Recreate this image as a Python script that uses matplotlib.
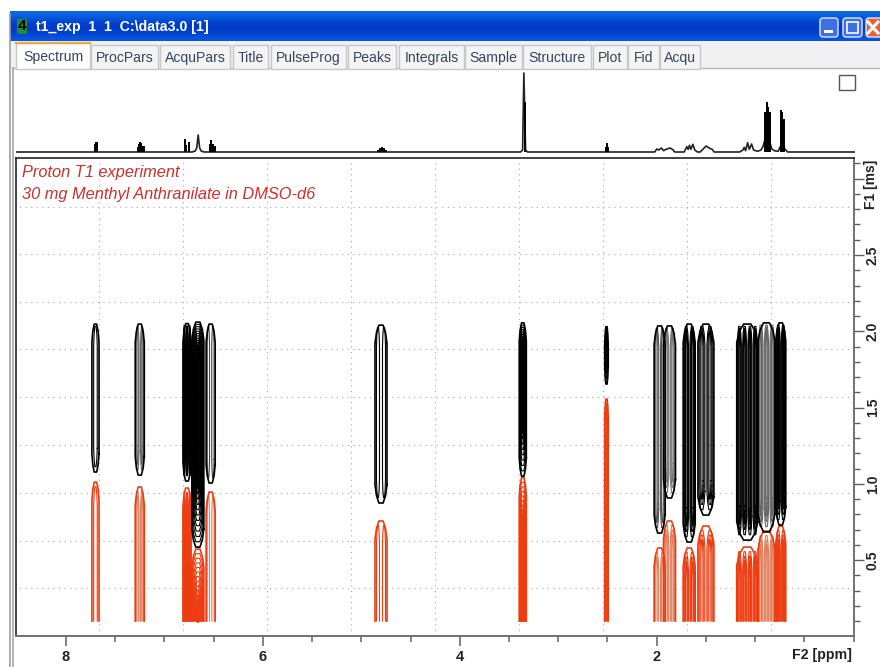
import numpy as np
import matplotlib
matplotlib.use('Agg')
import matplotlib.pyplot as plt
from matplotlib.patches import Rectangle, FancyBboxPatch

W, H = 880, 667

# 2D peaks: one entry per column of contours
peak_ppm = [7.70, 7.25, 6.77, 6.66, 6.53, 4.80, 3.36, 2.51, 1.97, 1.87, 1.67, 1.50, 1.08, 0.885, 0.74]
peak_hw = [0.036, 0.046, 0.041, 0.061, 0.046, 0.061, 0.036, 0.018, 0.056, 0.061, 0.061, 0.081, 0.107, 0.086, 0.051]
black_top = [2.047, 2.047, 2.05, 2.06, 2.047, 2.04, 2.055, 2.03, 2.035, 2.035, 2.047, 2.047, 2.047, 2.055, 2.055]
black_low = [1.077, 1.057, 1.018, 0.585, 1.005, 0.874, 1.05, 1.654, 0.677, 0.907, 0.618, 0.795, 0.631, 0.684, 0.73]
red_top = [1.011, 0.979, 0.972, 0.572, 0.946, 0.756, 1.04, 1.556, 0.579, 0.756, 0.579, 0.723, 0.585, 0.69, 0.723]
peak_lobes = [1, 2, 3, 1, 2, 2, 1, 1, 2, 2, 2, 2, 4, 3, 2]
peak_nest = [1, 2, 3, 12, 1, 1, 10, 2, 2, 3, 3, 3, 3, 3, 4]
black_inner = ['black', '#666666', 'black', 'black', '#444444', 'black', 'black', 'black', '#555555', '#777777',
               'black', 'black', 'black', '#666666', 'black']
red_inner = ['#ec3c10', '#e08060', '#ec3c10', '#ec3c10', '#e08060', '#ec3c10', '#ec3c10', '#ec3c10', '#e08060',
             '#e08060', '#ec3c10', '#ec3c10', '#ec3c10', '#e08060', '#ec3c10']
red_bottom = 0.1

# 1D projection on top, line part and stick part (height in pixels above baseline)
line_ppm = [8.51, 6.72, 6.689, 6.674, 6.659, 6.644, 6.628, 6.598, 3.388, 3.368, 3.355, 3.338, 3.317,
            2.027, 2.007, 1.986, 1.959, 1.939, 1.912, 1.872, 1.844, 1.824, 1.729, 1.702, 1.689, 1.675,
            1.661, 1.641, 1.621, 1.594, 1.567, 1.539, 1.506, 1.471, 1.445, 1.425, 1.167, 1.133, 1.12,
            1.106, 1.085, 1.069, 1.045, 1.025, 0.984, 0.95, 0.93, 0.91, 0.856, 0.842, 0.815, 0.775,
            0.754, 0.714, 0.679, 0.0]
line_h = [0, 0, 1, 4, 17, 4, 1, 0, 0, 2, 79, 2, 0,
          0, 3, 2, 4, 1.3, 2.7, 4, 2.3, 0, 0, 5.3, 2.7, 6.7,
          2.7, 7.7, 2, 0, 0, 2.7, 6, 3.7, 2.7, 0, 0, 2, 4.7,
          1.3, 9.3, 2.7, 8, 2, 0.7, 2, 5.3, 12, 8.7, 3.3, 1.3, 0.7,
          5.3, 3.7, 0, 0]
stick_ppm = [7.708, 7.70, 7.69, 7.682, 7.268, 7.258, 7.248, 7.238, 7.228, 7.212, 6.788, 6.781, 6.757, 6.75,
             6.544, 6.527, 6.51, 6.493, 4.836, 4.81, 4.79, 4.77, 4.749, 3.344, 2.52, 2.508, 2.499,
             0.91, 0.903, 0.896, 0.889, 0.883, 0.876, 0.869, 0.862, 0.747, 0.74, 0.734, 0.727, 0.72]
stick_h = [8, 10, 10, 7, 5, 8, 10, 9, 6, 6, 12.7, 7, 10, 6,
           8, 12, 8, 6, 2, 4, 5, 4, 2, 50, 5, 9, 5,
           40, 40, 40, 50, 45, 40, 40, 40, 42, 32, 40, 32, 33]

grid_ppm = [7.664, 6.811, 5.958, 5.105, 4.252, 3.398, 2.545, 1.692, 0.839]
grid_ms = [0.316, 0.625, 0.939, 1.254, 1.569, 1.884, 2.192, 2.507, 2.815]

tab_names = ['Spectrum', 'ProcPars', 'AcquPars', 'Title', 'PulseProg', 'Peaks', 'Integrals',
             'Sample', 'Structure', 'Plot', 'Fid', 'Acqu']
tab_left = [16, 91, 160, 233, 271, 348, 399, 465, 523, 593, 628, 660]
tab_right = [90, 158, 230, 268, 346, 396, 464, 522, 591, 627, 659, 700]

plt.rcParams['font.family'] = ['Liberation Sans', 'DejaVu Sans']

fig = plt.figure(figsize=(W / 100, H / 100), dpi=100)


def axes_px(left, top, right, bottom):
    return fig.add_axes([left / W, 1 - bottom / H, (right - left) / W, (bottom - top) / H])


# window frame, in pixels
bg = axes_px(0, 0, W, H)
bg.set_xlim(0, W)
bg.set_ylim(H, 0)
bg.axis('off')
bar = np.array([[0.05, 0.40, 0.88], [0.02, 0.33, 0.85], [0.0, 0.25, 0.80], [0.0, 0.23, 0.78],
                [0.0, 0.27, 0.82], [0.03, 0.33, 0.88]])[:, None, :]
bg.imshow(bar, extent=[10, W, 41, 11], aspect='auto', interpolation='bilinear', zorder=1)
bg.set_xlim(0, W)
bg.set_ylim(H, 0)
bg.add_patch(Rectangle((11, 41), W - 11, 27, fc='#f1f1f4', ec='none', zorder=1))
bg.plot([13, W], [68, 68], color='#b5b5b5', lw=1, zorder=2)
bg.plot([10, 10], [14, H], color='#a0a0a0', lw=1.2, zorder=2)
bg.plot([12.5, 12.5], [68, H], color='#a8a8a8', lw=1.2, zorder=2)

for i, name in enumerate(tab_names):
    active = i == 0
    top = 43 if active else 45
    bg.add_patch(Rectangle((tab_left[i], top), tab_right[i] - tab_left[i], 68.5 - top,
                           fc='white' if active else '#f4f4f4', ec='#c8c8c8', lw=1, zorder=3))
    if active:
        bg.plot([tab_left[i], tab_right[i]], [43, 43], color='#eda93a', lw=1.6, zorder=4)
    bg.text((tab_left[i] + tab_right[i]) / 2, 60.5 if active else 62, name, color='#35465c',
            fontsize=10.1, ha='center', va='baseline', zorder=5)

bg.text(22, 26.5, '4', color='black', fontsize=11, fontweight='bold', ha='center', va='center', zorder=5,
        bbox=dict(fc='#1e8c3a', ec='none', pad=0.6))
bg.text(36, 26.5, r't1_exp  1  1  C:\data3.0 [1]', color='white', fontsize=10.2, fontweight='bold',
        va='center', zorder=5)

btn_left = [820, 843, 866]
btn_right = [838, 862, 884]
btn_color = ['#3f6fe0', '#3f6fe0', '#e2643a']
for x0, x1, c in zip(btn_left, btn_right, btn_color):
    bg.add_patch(FancyBboxPatch((x0, 18), x1 - x0, 19, boxstyle='round,pad=0,rounding_size=3',
                                fc=c, ec='#dfe8fb', lw=1, zorder=4))
bg.add_patch(Rectangle((824, 30), 9, 3, fc='white', ec='none', zorder=5))
bg.add_patch(Rectangle((847, 22), 11, 11, fc='none', ec='#dfe8fb', lw=1.4, zorder=5))
bg.plot([868, 878], [22, 33], color='white', lw=2.2, zorder=5)
bg.plot([878, 868], [22, 33], color='white', lw=2.2, zorder=5)
bg.add_patch(Rectangle((838.5, 74.5), 16, 15, fc='white', ec='#555555', lw=1, zorder=5))

# 1D trace
spec = axes_px(16, 70, 855, 156)
spec.set_xlim(8.507, -0.004)
spec.set_ylim(-4, 82)
spec.axis('off')
spec.patch.set_alpha(0)
spec.plot(line_ppm, line_h, color='#222222', lw=1.2)
spec.vlines(stick_ppm, 0, stick_h, color='black', lw=1.4)

# contour map
ax = axes_px(16, 158, 854, 636)
ax.set_xlim(8.507, -0.004)
ax.set_ylim(0.002, 3.136)
ax.vlines(grid_ppm, 0.002, 3.136, color='#a8a8a8', lw=0.8, linestyles=(0, (1, 4)), zorder=1)
ax.hlines(grid_ms, -0.004, 8.507, color='#a8a8a8', lw=0.8, linestyles=(0, (1, 4)), zorder=1)


def loop(c, w, low, high, end=0.12):
    xs = [c - w, c - w * 0.75, c - w * 0.35, c + w * 0.35, c + w * 0.75, c + w,
          c + w, c + w * 0.75, c + w * 0.35, c - w * 0.35, c - w * 0.75, c - w, c - w]
    ys = [low + end, low + end * 0.4, low, low, low + end * 0.4, low + end,
          high - end, high - end * 0.4, high, high, high - end * 0.4, high - end, low + end]
    return xs, ys


def arch(c, w, high, end=0.12):
    xs = [c - w, c - w, c - w * 0.75, c - w * 0.35, c + w * 0.35, c + w * 0.75, c + w, c + w]
    ys = [red_bottom, high - end, high - end * 0.4, high, high, high - end * 0.4, high - end, red_bottom]
    return xs, ys


for i in range(len(peak_ppm)):
    # outer envelope of the whole multiplet
    xs, ys = loop(peak_ppm[i], peak_hw[i], black_low[i], black_top[i])
    ax.plot(xs, ys, color='black', lw=1.2, zorder=4)
    xs, ys = arch(peak_ppm[i], peak_hw[i], red_top[i])
    ax.plot(xs, ys, color='#ec3c10', lw=1.2, zorder=3)
    L = peak_lobes[i]
    w = peak_hw[i] / L
    for k in range(L):
        c = peak_ppm[i] + peak_hw[i] * (2 * k + 1 - L) / L
        for n in range(peak_nest[i]):
            f = 1 - (n + 1) / (peak_nest[i] + 1)
            xs, ys = loop(c, w * f, black_low[i] + 0.035 * (n + 1), black_top[i] - 0.015 * (n + 1))
            ax.plot(xs, ys, color=black_inner[i], lw=0.8, zorder=3)
            xs, ys = arch(c, w * f, red_top[i] - 0.03 * (n + 1))
            ax.plot(xs, ys, color=red_inner[i], lw=0.8, zorder=2)

ax.text(22, 173, 'Proton T1 experiment', transform=bg.transData, color='#c8322c', fontsize=11.8,
        style='italic', va='center', zorder=6)
ax.text(22, 195, '30 mg Menthyl Anthranilate in DMSO-d6', transform=bg.transData, color='#c8322c',
        fontsize=11.8, style='italic', va='center', zorder=6)

for s in ['top', 'left']:
    ax.spines[s].set_color('#222222')
    ax.spines[s].set_linewidth(1.2)
for s in ['right', 'bottom']:
    ax.spines[s].set_color('#707070')
    ax.spines[s].set_linewidth(1.4)

ax.yaxis.tick_right()
ax.set_xticks([8, 6, 4, 2])
ax.set_xticklabels(['8', '6', '4', '2'])
ax.set_xticks([7.5, 7, 6.5, 5.5, 5, 4.5, 3.5, 3, 2.5, 1.5, 1, 0.5, 0], minor=True)
ax.set_yticks([0.5, 1.0, 1.5, 2.0, 2.5, 3.0])
ax.set_yticklabels(['0.5', '1.0', '1.5', '2.0', '2.5', ''], rotation=90, va='center')
ax.set_yticks([v / 10 for v in range(1, 32) if v % 5 != 0], minor=True)
ax.tick_params(axis='x', which='major', length=7, width=1.1, color='#606060', pad=3)
ax.tick_params(axis='x', which='minor', length=4, width=1.1, color='#606060')
ax.tick_params(axis='y', which='major', length=7, width=1.0, color='#606060', pad=1.5)
ax.tick_params(axis='y', which='minor', length=4, width=1.0, color='#606060')
for lab in ax.get_xticklabels():
    lab.set_fontweight('bold')
    lab.set_fontsize(10.5)
    lab.set_color('#222222')
for lab in ax.get_yticklabels():
    lab.set_fontweight('bold')
    lab.set_fontsize(10)
    lab.set_color('#222222')
bg.text(852, 655, 'F2 [ppm]', fontweight='bold', fontsize=10.2, color='#222222',
        ha='right', va='center', zorder=6)
bg.text(871, 184, 'F1 [ms]', fontweight='bold', fontsize=10, color='#222222', rotation=90,
        ha='center', va='center', zorder=6)

fig.savefig('out.png', dpi=100)
